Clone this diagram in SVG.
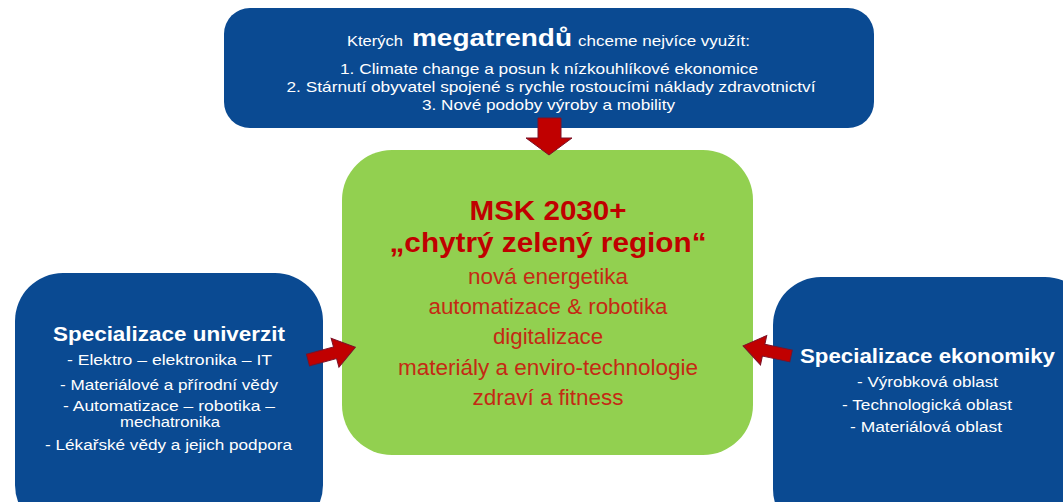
<svg xmlns="http://www.w3.org/2000/svg" width="1063" height="502" viewBox="0 0 1063 502">
<defs>
<style>
.blue{fill:#0A4A92;}
.green{fill:#92D050;}
.w{fill:#FFFFFF;font-family:"Liberation Sans",Arial,sans-serif;}
.wb{fill:#FFFFFF;font-family:"Liberation Sans",Arial,sans-serif;font-weight:bold;}
.rt{fill:#C00000;font-family:"Liberation Sans",Arial,sans-serif;font-weight:bold;font-size:27px;text-anchor:middle;}
.ri{fill:#C42A14;font-family:"Liberation Sans",Arial,sans-serif;font-size:22px;text-anchor:middle;}
.m{text-anchor:middle;}
.arrow{fill:#C00000;stroke:#7A1328;stroke-width:1;}
</style>
<polygon id="arr" points="0,-6 28,-6 28,-15 49,0 28,15 28,6 0,6"/>
</defs>
<rect width="1063" height="502" fill="#FFFFFF"/>

<g id="megatrends">
<rect class="blue" x="224" y="8" width="650" height="120" rx="26"/>
<text class="w" x="347" y="46" font-size="14" textLength="56" lengthAdjust="spacingAndGlyphs">Kterých</text>
<text class="wb" x="412" y="46" font-size="24" textLength="160" lengthAdjust="spacingAndGlyphs">megatrendů</text>
<text class="w" x="578" y="46" font-size="14" textLength="172" lengthAdjust="spacingAndGlyphs">chceme nejvíce využít:</text>
<text class="w m" x="549" y="74" font-size="15" textLength="418" lengthAdjust="spacingAndGlyphs">1. Climate change a posun k nízkouhlíkové ekonomice</text>
<text class="w m" x="551" y="92" font-size="15" textLength="529" lengthAdjust="spacingAndGlyphs">2. Stárnutí obyvatel spojené s rychle rostoucími náklady zdravotnictví</text>
<text class="w m" x="548.5" y="110" font-size="15" textLength="253" lengthAdjust="spacingAndGlyphs">3. Nové podoby výroby a mobility</text>
</g>

<g id="msk2030">
<rect class="green" x="342" y="150" width="411" height="305" rx="50"/>
<text class="rt" x="548" y="220" textLength="157" lengthAdjust="spacingAndGlyphs">MSK 2030+</text>
<text class="rt" x="548" y="252" textLength="317" lengthAdjust="spacingAndGlyphs">„chytrý zelený region“</text>
<text class="ri" x="548" y="284" textLength="160" lengthAdjust="spacingAndGlyphs">nová energetika</text>
<text class="ri" x="548" y="314" textLength="239" lengthAdjust="spacingAndGlyphs">automatizace &amp; robotika</text>
<text class="ri" x="548" y="344" textLength="110" lengthAdjust="spacingAndGlyphs">digitalizace</text>
<text class="ri" x="548" y="375" textLength="300" lengthAdjust="spacingAndGlyphs">materiály a enviro-technologie</text>
<text class="ri" x="548" y="405" textLength="151" lengthAdjust="spacingAndGlyphs">zdraví a fitness</text>
</g>

<g id="univerzity">
<rect class="blue" x="15" y="273" width="308" height="260" rx="48"/>
<text class="wb m" x="169" y="341" font-size="20" textLength="232" lengthAdjust="spacingAndGlyphs">Specializace univerzit</text>
<text class="w m" x="169.5" y="365" font-size="14" textLength="205" lengthAdjust="spacingAndGlyphs">-  Elektro – elektronika  – IT</text>
<text class="w m" x="169" y="390" font-size="14" textLength="218" lengthAdjust="spacingAndGlyphs">- Materiálové a přírodní vědy</text>
<text class="w m" x="169" y="411" font-size="14" textLength="212" lengthAdjust="spacingAndGlyphs">- Automatizace – robotika –</text>
<text class="w m" x="170" y="427" font-size="14" textLength="100" lengthAdjust="spacingAndGlyphs">mechatronika</text>
<text class="w m" x="168.5" y="450" font-size="14" textLength="247" lengthAdjust="spacingAndGlyphs">- Lékařské vědy a jejich podpora</text>
</g>

<g id="ekonomika">
<rect class="blue" x="773" y="277" width="320" height="260" rx="48"/>
<text class="wb m" x="927.5" y="363" font-size="20" textLength="255" lengthAdjust="spacingAndGlyphs">Specializace ekonomiky</text>
<text class="w m" x="927.5" y="387" font-size="14" textLength="141" lengthAdjust="spacingAndGlyphs">- Výrobková oblast</text>
<text class="w m" x="927" y="410" font-size="14" textLength="170" lengthAdjust="spacingAndGlyphs">- Technologická oblast</text>
<text class="w m" x="926" y="432" font-size="14" textLength="152" lengthAdjust="spacingAndGlyphs">- Materiálová oblast</text>
</g>

<g id="connectors">
<polygon class="arrow" points="538,118 561,118 561,138 572,138 549,155 526,138 538,138"/>
<use href="#arr" class="arrow" transform="translate(308,360) rotate(-15)"/>
<use href="#arr" class="arrow" transform="translate(791,356) rotate(192)"/>
</g>
</svg>
